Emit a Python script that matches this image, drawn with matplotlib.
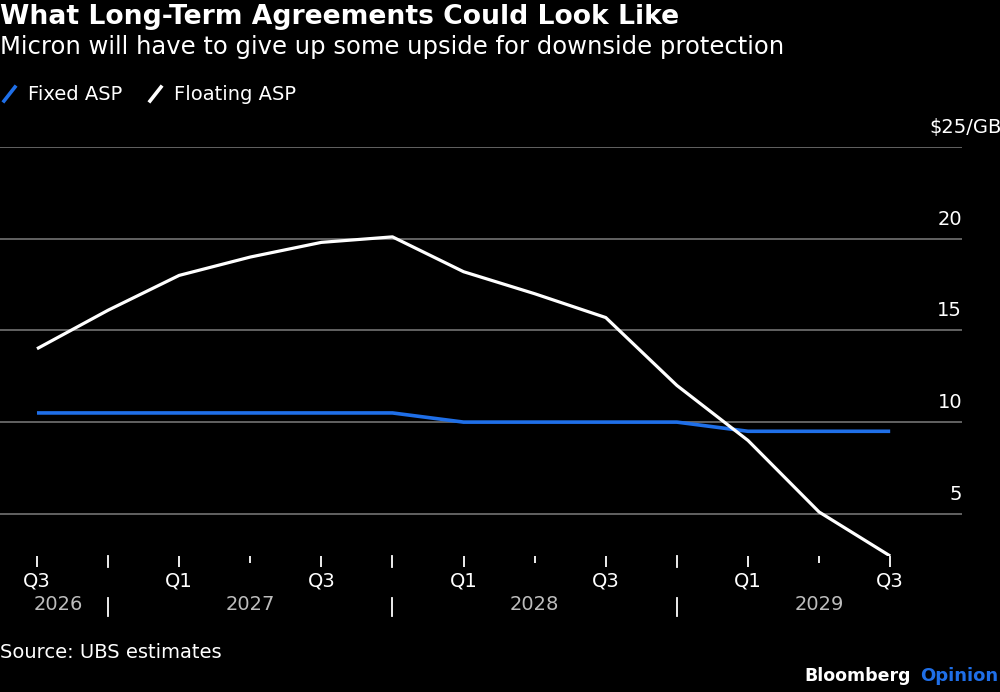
import matplotlib
matplotlib.use("Agg")
import matplotlib.pyplot as plt
import matplotlib.transforms as mtransforms
from matplotlib import font_manager

# data (Q3 2026 .. Q3 2029)
quarters = ["Q3", "Q4", "Q1", "Q2", "Q3", "Q4", "Q1", "Q2", "Q3", "Q4", "Q1", "Q2", "Q3"]
fixed_asp = [10.5, 10.5, 10.5, 10.5, 10.5, 10.5, 10.0, 10.0, 10.0, 10.0, 9.5, 9.5, 9.5]
floating_asp = [14.0, 16.1, 18.0, 19.0, 19.8, 20.1, 18.2, 17.0, 15.7, 12.0, 9.0, 5.1, 2.7]
years = ["2026", "2027", "2028", "2029"]
year_pos = [0.3, 3, 7, 11]
year_breaks = [1, 5, 9]
y_ticks = [5, 10, 15, 20]

names = {f.name for f in font_manager.fontManager.ttflist}
narrow = "Liberation Sans Narrow" if "Liberation Sans Narrow" in names else "DejaVu Sans"
plt.rcParams["font.family"] = [narrow, "DejaVu Sans"]

BLUE = "#1f6fe8"
GRID = "#6a6a6a"

fig = plt.figure(figsize=(10, 6.92), dpi=100, facecolor="black")
ax = fig.add_axes([0.0, 1 - 556 / 692, 0.962, 409 / 692])
ax.set_facecolor("black")

x = list(range(len(quarters)))
ax.plot(x, fixed_asp, color=BLUE, lw=2.6, solid_capstyle="butt", zorder=3)
ax.plot(x, floating_asp, color="white", lw=2.3, solid_capstyle="butt", zorder=4)

ax.set_xlim(-0.52, 13.01)
ax.set_ylim(2.7, 25)

# gridlines + right-side labels (sit just above each line)
for v in y_ticks + [25]:
    ax.axhline(v, color=GRID, lw=1.3, zorder=1)
for v in y_ticks:
    ax.text(1.0, v + 0.55, str(v), transform=ax.get_yaxis_transform(),
            ha="right", va="bottom", color="white", fontsize=14)
ax.text(929 / 962, 25 + 0.55, "$25/GB", transform=ax.get_yaxis_transform(),
        ha="left", va="bottom", color="white", fontsize=14, clip_on=False)

for s in ax.spines.values():
    s.set_visible(False)
ax.set_yticks([])

# quarter ticks: labelled Q1/Q3, short minor at Q2
major = [i for i, q in enumerate(quarters) if q in ("Q1", "Q3")]
ax.set_xticks(major)
ax.set_xticklabels([quarters[i] for i in major])
ax.set_xticks([i for i, q in enumerate(quarters) if q == "Q2"], minor=True)
ax.tick_params(axis="x", which="major", length=8, width=1.3, color="white",
               labelcolor="white", labelsize=14, pad=3)
ax.tick_params(axis="x", which="minor", length=5, width=1.3, color="white")

trans = mtransforms.blended_transform_factory(ax.transData, ax.transAxes)
for b in year_breaks:
    ax.plot([b, b], [0, -11 / 409], color="white", lw=1.3, transform=trans, clip_on=False)
    ax.plot([b, b], [-42 / 409, -60 / 409], color="white", lw=1.3, transform=trans, clip_on=False)
for yr, p in zip(years, year_pos):
    ax.text(p, -49 / 409, yr, transform=trans, ha="center", va="center",
            color="#bdbdbd", fontsize=14)

# titles and legend
fig.text(0.0, 1 - 17 / 692, "What Long-Term Agreements Could Look Like",
         color="white", fontsize=19.2, fontweight="bold", ha="left", va="center")
fig.text(0.0, 1 - 47 / 692, "Micron will have to give up some upside for downside protection",
         color="white", fontsize=17.5, ha="left", va="center")

for x0, c, lab in [(4, BLUE, "Fixed ASP"), (150, "white", "Floating ASP")]:
    fig.lines.append(plt.Line2D([x0 / 1000, (x0 + 11) / 1000], [1 - 101 / 692, 1 - 87 / 692],
                                color=c, lw=2.6, transform=fig.transFigure))
    fig.text((x0 + 24) / 1000, 1 - 94 / 692, lab, color="white", fontsize=14,
             ha="left", va="center")

fig.text(0.0, 1 - 652 / 692, "Source: UBS estimates", color="white", fontsize=14,
         ha="left", va="center")
fig.text(0.911, 1 - 676 / 692, "Bloomberg", color="white", fontsize=12.5,
         fontweight="bold", ha="right", va="center")
fig.text(0.998, 1 - 676 / 692, "Opinion", color=BLUE, fontsize=13,
         fontweight="bold", ha="right", va="center")

fig.savefig("out.png", dpi=100, facecolor="black")
